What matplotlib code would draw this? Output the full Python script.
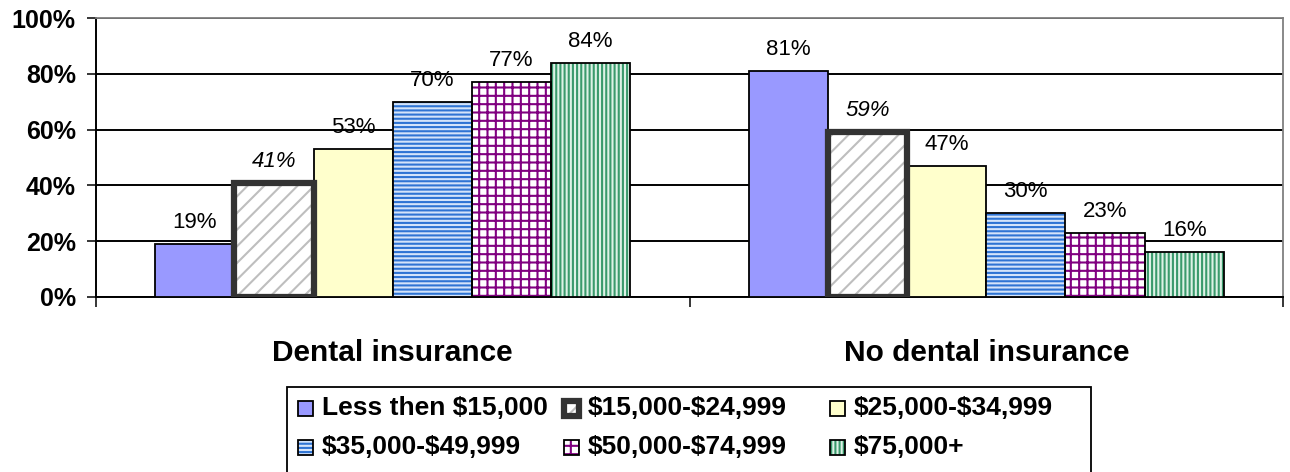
import numpy as np
import matplotlib
matplotlib.use('Agg')
import matplotlib.pyplot as plt
from matplotlib.patches import Rectangle

# ─── Data ─────────────────────────────────────────────────────────────────────
categories = ['Dental insurance', 'No dental insurance']
income_groups = ['Less then $15,000', '$15,000-$24,999', '$25,000-$34,999',
                 '$35,000-$49,999', '$50,000-$74,999', '$75,000+']
dental = [19, 41, 53, 70, 77, 84]        # % with dental insurance
no_dental = [81, 59, 47, 30, 23, 16]     # % without dental insurance
y_ticks = [0, 20, 40, 60, 80, 100]

# ─── Styles per series: face, hatch, hatch colour, edge colour, edge width ───
styles = [
    dict(face='#9999FF', hatch=None,   hcol=None,      edge='black',   lw=1.3),
    dict(face='white',   hatch='//',   hcol='#BEBEBE', edge='#333333', lw=4.5),
    dict(face='#FFFFCC', hatch=None,   hcol=None,      edge='black',   lw=1.3),
    dict(face='#D4E4FA', hatch='----', hcol='#2E74D4', edge='black',   lw=1.3),
    dict(face='white',   hatch='++',   hcol='#800080', edge='black',   lw=1.3),
    dict(face='#DDF2E6', hatch='||||', hcol='#3A9A6C', edge='black',   lw=1.3),
]

plt.rcParams['font.family'] = ['Liberation Sans', 'DejaVu Sans']
plt.rcParams['hatch.linewidth'] = 1.5
plt.rcParams['text.parse_math'] = False

W, H = 1290, 472
fig = plt.figure(figsize=(W / 100, H / 100), dpi=100)
ax = fig.add_axes([96 / W, 1 - 297 / H, (1283 - 96) / W, (297 - 18) / H])

n = len(income_groups)
x = np.arange(len(categories))
width = 0.8 / n

# ─── Bars ─────────────────────────────────────────────────────────────────────
for i, st in enumerate(styles):
    vals = [dental[i], no_dental[i]]
    pos = x - 0.4 + width * (i + 0.5)
    if st['hatch']:
        ax.bar(pos, vals, width, color=st['face'], edgecolor=st['hcol'],
               linewidth=0, hatch=st['hatch'], zorder=3)
        ax.bar(pos, vals, width, fill=False, edgecolor=st['edge'],
               linewidth=st['lw'], zorder=4)
    else:
        ax.bar(pos, vals, width, color=st['face'], edgecolor=st['edge'],
               linewidth=st['lw'], zorder=3)
    for px, v in zip(pos, vals):
        ax.annotate(f'{v}%', (px, v), xytext=(0, 11.5), textcoords='offset points',
                    ha='center', va='baseline', fontsize=16,
                    style='italic' if i == 1 else 'normal', zorder=5)

# ─── Axes styling ─────────────────────────────────────────────────────────────
ax.set_xlim(-0.5, 1.5)
ax.set_ylim(0, 100)
ax.set_yticks(y_ticks)
ax.set_yticklabels([f'{t}%' for t in y_ticks], fontsize=18, fontweight='bold')
ax.yaxis.grid(True, color='black', linewidth=1.4, zorder=0)
ax.set_axisbelow(True)
ax.tick_params(axis='y', direction='out', length=6.5, width=1.1, pad=8)

ax.set_xticks(x)
ax.set_xticklabels(categories, fontsize=21.5, fontweight='bold')
ax.set_xticks([-0.5, 0.5, 1.5], minor=True)
ax.tick_params(axis='x', which='major', length=0, pad=30)
ax.tick_params(axis='x', which='minor', direction='out', length=7.5, width=1.1)

for side in ['left', 'bottom']:
    ax.spines[side].set_color('black')
    ax.spines[side].set_linewidth(1.4)
for side in ['top', 'right']:
    ax.spines[side].set_color('#808080')
    ax.spines[side].set_linewidth(1.3)

# ─── Legend box (Excel style, row-major) ─────────────────────────────────────
def fx(p):
    return p / W

def fy(p):
    return 1 - p / H

fig.patches.append(Rectangle((fx(287), fy(480)), fx(1091 - 287), (480 - 387) / H,
                             transform=fig.transFigure, fill=False,
                             edgecolor='black', linewidth=1.3))
for i, (label, st) in enumerate(zip(income_groups, styles)):
    row, col = divmod(i, 3)
    sx = 298 + col * 266
    cy = 408 + row * 39
    sw = 15
    fig.patches.append(Rectangle((fx(sx), fy(cy + sw / 2)), fx(sw), sw / H,
                                 transform=fig.transFigure, facecolor=st['face'],
                                 edgecolor=st['hcol'] or st['face'],
                                 hatch=st['hatch'], linewidth=0))
    fig.patches.append(Rectangle((fx(sx), fy(cy + sw / 2)), fx(sw), sw / H,
                                 transform=fig.transFigure, fill=False,
                                 edgecolor=st['edge'],
                                 linewidth=4.5 if i == 1 else 1.3))
    fig.text(fx(sx + 24), fy(cy), label, fontsize=19, fontweight='bold',
             ha='left', va='center')

fig.savefig('out.png', dpi=100)
